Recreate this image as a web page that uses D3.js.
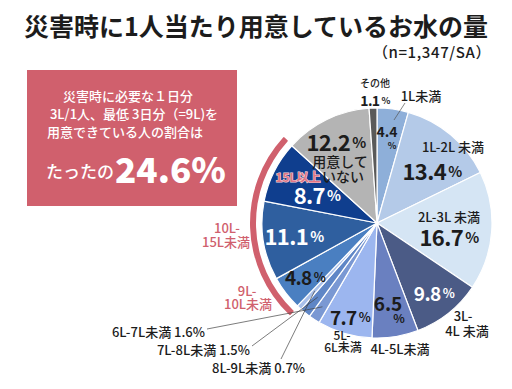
<!doctype html>
<html>
<head>
<meta charset="utf-8">
<script src="https://cdn.jsdelivr.net/npm/d3@7"></script>
<style>
  body { margin: 0; background: #fff; }
  svg text { font-family: "Noto Sans CJK JP", "Noto Sans", sans-serif; }
</style>
</head>
<body>
<script>
// categories clockwise from 12 o'clock, values in %
const categories = ["1L未満", "1L-2L未満", "2L-3L未満", "3L-4L未満", "4L-5L未満", "5L-6L未満",
  "6L-7L未満", "7L-8L未満", "8L-9L未満", "9L-10L未満", "10L-15L未満", "15L以上", "用意していない", "その他"];
const values = [4.4, 13.4, 16.7, 9.8, 6.5, 7.7, 1.6, 1.5, 0.7, 4.8, 11.1, 8.7, 12.2, 1.1];
const colors = ["#8eafd9", "#b4cae8", "#d5e5f4", "#4b5b86", "#6a80c0", "#9cb6ef",
  "#7a98d3", "#5f86c6", "#a9c0ea", "#4a7fc1", "#2f5f9f", "#0f3e8e", "#b4b4b4", "#5a5a5a"];
const enough = ["9L-10L未満", "10L-15L未満", "15L以上"]; // 9L以上 = 24.6%
const share = "24.6";

const W = 512, H = 389;
const cx = 377, cy = 223, R = 115;
const pink = "#d0606d", ink = "#1c1c1c";
const numFont = "Roboto, sans-serif";

const svg = d3.select("body").append("svg").attr("width", W).attr("height", H);

// title
svg.append("text").attr("x", 256).attr("y", 36).attr("text-anchor", "middle")
  .attr("font-size", 25).attr("font-weight", 700).attr("fill", ink)
  .text("災害時に1人当たり用意しているお水の量");
svg.append("text").attr("x", 491).attr("y", 58).attr("text-anchor", "end")
  .attr("font-size", 15).attr("font-weight", 500).attr("letter-spacing", 0.6).attr("fill", ink)
  .text("（n=1,347/SA）");

// callout box
svg.append("rect").attr("x", 27).attr("y", 70).attr("width", 210).attr("height", 136).attr("fill", pink);
const box = svg.append("g").attr("fill", "#fff").attr("font-weight", 500);
box.append("text").attr("x", 128).attr("y", 101).attr("text-anchor", "middle").attr("font-size", 13).text("災害時に必要な１日分");
box.append("text").attr("x", 134).attr("y", 119).attr("text-anchor", "middle").attr("font-size", 13).text("3L/1人、最低 3日分（=9L)を");
box.append("text").attr("x", 125).attr("y", 137).attr("text-anchor", "middle").attr("font-size", 13).text("用意できている人の割合は");
box.append("text").attr("x", 46).attr("y", 178).attr("font-size", 17).text("たったの");
box.append("text").attr("x", 115).attr("y", 183).attr("font-size", 35).attr("font-weight", 900).text(share + "%");

// pie
const pie = d3.pie().sort(null).value(d => d.v);
const arcs = pie(categories.map((c, i) => ({c, v: values[i], col: colors[i]})));
const arc = d3.arc().innerRadius(0).outerRadius(R);
const g = svg.append("g").attr("transform", `translate(${cx},${cy})`);
g.selectAll("path").data(arcs).join("path")
  .attr("d", arc).attr("fill", d => d.data.col)
  .attr("stroke", "#fff").attr("stroke-width", 1.2).attr("stroke-linejoin", "round");

// red band around 9L以上
const sel = arcs.filter(a => enough.includes(a.data.c));
g.append("path")
  .attr("d", d3.arc().innerRadius(121).outerRadius(127).cornerRadius(1)({
    startAngle: d3.min(sel, a => a.startAngle) - 0.01, endAngle: d3.max(sel, a => a.endAngle) + 0.01}))
  .attr("fill", pink);

const byName = Object.fromEntries(arcs.map(a => [a.data.c, a]));
const val = name => values[categories.indexOf(name)];
const mid = (name, r) => {
  const a = byName[name], t = (a.startAngle + a.endAngle) / 2;
  return [r * Math.sin(t), -r * Math.cos(t)];
};

// text placed relative to pie centre
function txt(x, y, s, size, opt = {}) {
  return g.append("text").attr("x", x - cx).attr("y", y - cy)
    .attr("text-anchor", opt.anchor || "middle").attr("dominant-baseline", "central")
    .attr("font-size", size).attr("font-weight", opt.weight || 500)
    .attr("font-family", opt.family || null)
    .attr("fill", opt.fill || ink).text(s);
}
function pct(x, y, name, size, fill = ink) {
  const t = g.append("text").attr("x", x - cx).attr("y", y - cy)
    .attr("text-anchor", "middle").attr("dominant-baseline", "central")
    .attr("font-family", numFont).attr("font-weight", 700).attr("fill", fill)
    .attr("font-size", size).attr("letter-spacing", -0.6);
  t.append("tspan").text(val(name).toFixed(1));
  t.append("tspan").attr("font-size", size * 0.66).attr("dx", 2).text("%");
}

// labels
txt(375, 82, "その他", 10);
pct(375, 100, "その他", 14);
txt(421, 95, "1L未満", 13);
txt(387, 131, val("1L未満").toFixed(1), 14, {weight: 700, family: numFont});
txt(392, 145, "%", 9, {weight: 700});
txt(453, 146, "1L-2L 未満", 13);
pct(432, 170, "1L-2L未満", 22);
txt(449, 216, "2L-3L 未満", 13);
pct(449, 236, "2L-3L未満", 22);
pct(434, 292, "3L-4L未満", 19, "#fff");
txt(463, 315, "3L-", 13);
txt(467, 330, "4L 未満", 13);
txt(388, 302, val("4L-5L未満").toFixed(1), 19, {weight: 700, family: numFont});
txt(399, 317, "%", 12, {weight: 700, family: numFont});
txt(400, 348, "4L-5L未満", 13);
pct(350, 316, "5L-6L未満", 19);
txt(342, 334, "5L-", 12);
txt(343, 346, "6L未満", 12);
pct(305, 276, "9L-10L未満", 19);
pct(294, 235, "10L-15L未満", 22, "#fff");
txt(298, 176, "15L以上", 12, {fill: "#e07585", weight: 700})
  .attr("stroke", "#f6d5da").attr("stroke-width", 1.2).attr("paint-order", "stroke");
pct(317, 194, "15L以上", 22, "#fff");
pct(336, 141, "用意していない", 22);
txt(340, 161, "用意して", 14);
txt(343, 176, "いない", 14);
txt(227, 227, "10L-", 13, {fill: pink});
txt(226, 241, "15L未満", 13, {fill: pink});
txt(247, 290, "9L-", 13, {fill: pink});
txt(248, 303, "10L未満", 13, {fill: pink});

// leader line for 1L未満
g.append("line").attr("stroke", "#555").attr("stroke-width", 0.7)
  .attr("x1", 405 - cx).attr("y1", 103 - cy).attr("x2", 394 - cx).attr("y2", 120 - cy);

// small slices: label text + leader line into the slice
const small = [
  {c: "6L-7L未満", x: 205, y: 331, anchor: "end", from: [207, 329], r: 100},
  {c: "7L-8L未満", x: 250, y: 349, anchor: "end", from: [252, 346], r: 95},
  {c: "8L-9L未満", x: 212, y: 367, anchor: "start", from: [281, 359], r: 92}
];
small.forEach(s => {
  txt(s.x, s.y, s.c + " " + val(s.c).toFixed(1) + "%", 13, {anchor: s.anchor});
  const end = mid(s.c, s.r);
  g.append("line").attr("stroke", "#444").attr("stroke-width", 0.7)
    .attr("x1", s.from[0] - cx).attr("y1", s.from[1] - cy).attr("x2", end[0]).attr("y2", end[1]);
});
</script>
</body>
</html>
